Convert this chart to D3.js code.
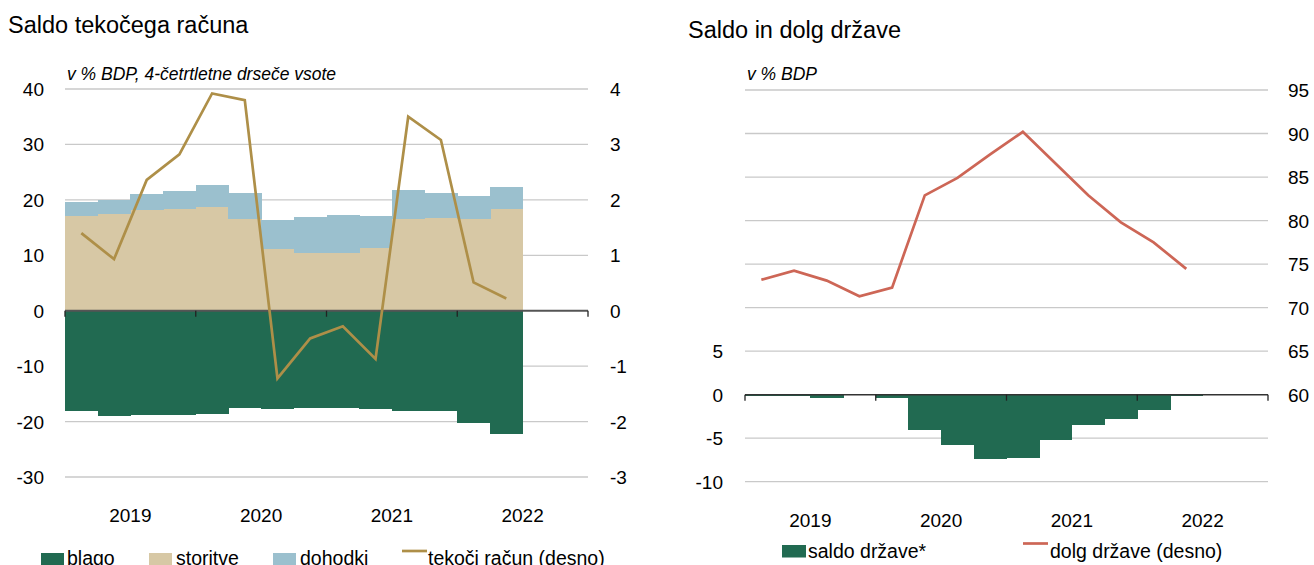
<!DOCTYPE html>
<html><head><meta charset="utf-8">
<script src="https://cdn.jsdelivr.net/npm/d3@7"></script>
<style>
body{margin:0;background:#fff;}
text{font-family:"Liberation Sans",Arial,sans-serif;fill:#000;}
</style></head>
<body>
<svg id="c" width="1314" height="565"></svg>
<script>
// ---------- DATA ----------
const quarters = ["2019Q1","2019Q2","2019Q3","2019Q4","2020Q1","2020Q2","2020Q3","2020Q4","2021Q1","2021Q2","2021Q3","2021Q4","2022Q1","2022Q2"];
const years = ["2019","2020","2021","2022"];
// left chart (current account, % GDP, 4-quarter rolling sums)
const blago    = [-18.1,-19.0,-18.9,-18.9,-18.6,-17.5,-17.7,-17.5,-17.6,-17.8,-18.1,-18.1,-20.2,-22.2];
const storitve = [17.0,17.5,18.1,18.4,18.8,16.5,11.1,10.5,10.5,11.3,16.5,16.8,16.6,18.4];
const dohodki  = [2.7,2.5,3.0,3.2,3.8,4.8,5.3,6.4,6.8,5.8,5.3,4.5,4.1,4.0];
const tekociRacun = [1.40,0.93,2.36,2.82,3.92,3.80,-1.22,-0.50,-0.28,-0.87,3.50,3.08,0.51,0.22];
const leftTicks = [-30,-20,-10,0,10,20,30,40];
const leftTicksR = [-3,-2,-1,0,1,2,3,4];
// right chart (government balance and debt, % GDP)
const saldoDrzave = [-0.1,-0.15,-0.35,0,-0.35,-4.07,-5.8,-7.38,-7.27,-5.23,-3.46,-2.84,-1.77,-0.15];
const dolgDrzave  = [73.2,74.25,73.1,71.3,72.3,82.9,84.9,87.6,90.2,86.55,82.9,79.8,77.5,74.45];
const rightTicksL = [-10,-5,0,5];
const rightTicksR = [60,65,70,75,80,85,90,95];
const rightGrid   = [-10,-5,0,5,10,15,20,25,30,35];

// ---------- COLOURS ----------
const cGreen="#216a51", cBeige="#d7c8a5", cBlue="#9bc0ce", cGold="#ae8f48", cRed="#cd6656", cGrid="#c9c9c9", cAxis="#555555";

const svg = d3.select("#c");
const allQ = [];
years.forEach(y=>["Q1","Q2","Q3","Q4"].forEach(q=>allQ.push(y+q)));

function yearAxis(g, x, labelY){
  years.forEach(yr=>{
    const qs = allQ.filter(q=>q.startsWith(yr));
    const cx = (x(qs[0]) + x(qs[3]) + x.bandwidth())/2;
    g.append("text").attr("x",cx).attr("y",labelY).attr("text-anchor","middle").attr("font-size",19).text(yr);
  });
}

// ================= LEFT CHART =================
(function(){
  const L=65, R=588, T=89, B=477;
  const x = d3.scaleBand().domain(allQ).range([L,R]).padding(0);
  const y = d3.scaleLinear().domain([-30,40]).range([B,T]);
  const yR = d3.scaleLinear().domain([-3,4]).range([B,T]);
  const g = svg.append("g");

  g.append("text").attr("x",8).attr("y",33).attr("font-size",23.5).text("Saldo tekočega računa");
  g.append("text").attr("x",67).attr("y",80).attr("font-size",17.5).attr("font-style","italic").text("v % BDP, 4-četrtletne drseče vsote");

  g.selectAll(".gl").data(leftTicks.filter(d=>d!==0)).enter().append("line")
    .attr("x1",L).attr("x2",R).attr("y1",d=>y(d)).attr("y2",d=>y(d))
    .attr("stroke",cGrid).attr("stroke-width",1.3);

  const bw = x.bandwidth();
  const bars = g.append("g").attr("shape-rendering","crispEdges");
  bars.selectAll(".bs").data(quarters).enter().append("rect")
    .attr("x",d=>x(d)).attr("width",bw+0.6)
    .attr("y",(d,i)=>y(storitve[i])).attr("height",(d,i)=>y(0)-y(storitve[i])).attr("fill",cBeige);
  bars.selectAll(".bd").data(quarters).enter().append("rect")
    .attr("x",d=>x(d)).attr("width",bw+0.6)
    .attr("y",(d,i)=>y(storitve[i]+dohodki[i])).attr("height",(d,i)=>y(storitve[i])-y(storitve[i]+dohodki[i])).attr("fill",cBlue);
  bars.selectAll(".bb").data(quarters).enter().append("rect")
    .attr("x",d=>x(d)).attr("width",bw+0.6)
    .attr("y",y(0)).attr("height",(d,i)=>y(blago[i])-y(0)).attr("fill",cGreen);

  g.append("line").attr("x1",L).attr("x2",R).attr("y1",y(0)).attr("y2",y(0)).attr("stroke",cAxis).attr("stroke-width",2);
  const bounds = years.map(yr=>x(yr+"Q1")).concat([R]);
  g.selectAll(".tk").data(bounds).enter().append("line")
    .attr("x1",d=>d).attr("x2",d=>d).attr("y1",y(0)).attr("y2",y(0)+6).attr("stroke","#222").attr("stroke-width",1.3);

  const line = d3.line().x((d,i)=>x(quarters[i])+bw/2).y(d=>yR(d));
  g.append("path").datum(tekociRacun).attr("d",line).attr("fill","none").attr("stroke",cGold).attr("stroke-width",2.7);

  g.selectAll(".yl").data(leftTicks).enter().append("text")
    .attr("x",44).attr("y",d=>y(d)+7).attr("text-anchor","end").attr("font-size",19).text(d=>d);
  g.selectAll(".yr").data(leftTicksR).enter().append("text")
    .attr("x",610).attr("y",d=>yR(d)+7).attr("text-anchor","start").attr("font-size",19).text(d=>d);

  yearAxis(g,x,522);

  const lg = g.append("g");
  const items = [["blago",cGreen,41,67],["storitve",cBeige,149,176],["dohodki",cBlue,273,300]];
  items.forEach(([t,c,sx,tx])=>{
    lg.append("rect").attr("x",sx).attr("y",553).attr("width",23).attr("height",13).attr("fill",c);
    lg.append("text").attr("x",tx).attr("y",565).attr("font-size",19.5).text(t);
  });
  lg.append("line").attr("x1",402).attr("x2",427).attr("y1",551).attr("y2",551).attr("stroke",cGold).attr("stroke-width",2.7);
  lg.append("text").attr("x",428).attr("y",565).attr("font-size",19.5).text("tekoči račun (desno)");
})();

// ================= RIGHT CHART =================
(function(){
  const L=745, R=1268, T=90, B=481.7;
  const x = d3.scaleBand().domain(allQ).range([L,R]).padding(0);
  const y = d3.scaleLinear().domain([-10,35]).range([B,T]);
  const yR = d3.scaleLinear().domain([50,95]).range([B,T]);
  const g = svg.append("g");

  g.append("text").attr("x",688).attr("y",38).attr("font-size",23.5).text("Saldo in dolg države");
  g.append("text").attr("x",747).attr("y",80).attr("font-size",17.5).attr("font-style","italic").text("v % BDP");

  g.selectAll(".gl").data(rightGrid.filter(d=>d!==0)).enter().append("line")
    .attr("x1",L).attr("x2",R).attr("y1",d=>y(d)).attr("y2",d=>y(d))
    .attr("stroke",cGrid).attr("stroke-width",1.3);

  const bw = x.bandwidth();
  const bars = g.append("g").attr("shape-rendering","crispEdges");
  bars.selectAll(".bg").data(quarters).enter().append("rect")
    .attr("x",d=>x(d)).attr("width",bw+0.6)
    .attr("y",(d,i)=>Math.min(y(0),y(saldoDrzave[i]))).attr("height",(d,i)=>Math.abs(y(saldoDrzave[i])-y(0))).attr("fill",cGreen);

  g.append("line").attr("x1",L).attr("x2",R).attr("y1",y(0)).attr("y2",y(0)).attr("stroke","#333").attr("stroke-width",1.5);
  const bounds = years.map(yr=>x(yr+"Q1")).concat([R]);
  g.selectAll(".tk").data(bounds).enter().append("line")
    .attr("x1",d=>d).attr("x2",d=>d).attr("y1",y(0)).attr("y2",y(0)+6).attr("stroke","#222").attr("stroke-width",1.3);

  const line = d3.line().x((d,i)=>x(quarters[i])+bw/2).y(d=>yR(d));
  g.append("path").datum(dolgDrzave).attr("d",line).attr("fill","none").attr("stroke",cRed).attr("stroke-width",2.7);

  g.selectAll(".yl").data(rightTicksL).enter().append("text")
    .attr("x",723).attr("y",d=>y(d)+7).attr("text-anchor","end").attr("font-size",19).text(d=>d);
  g.selectAll(".yr").data(rightTicksR).enter().append("text")
    .attr("x",1288).attr("y",d=>yR(d)+7).attr("text-anchor","start").attr("font-size",19).text(d=>d);

  yearAxis(g,x,527);

  g.append("rect").attr("x",782).attr("y",545).attr("width",24).attr("height",12.5).attr("fill",cGreen);
  g.append("text").attr("x",808).attr("y",557.5).attr("font-size",19.5).text("saldo države*");
  g.append("line").attr("x1",1023).attr("x2",1048).attr("y1",543.5).attr("y2",543.5).attr("stroke",cRed).attr("stroke-width",2.7);
  g.append("text").attr("x",1050).attr("y",557.5).attr("font-size",19.5).text("dolg države (desno)");
})();
</script>
</body></html>
